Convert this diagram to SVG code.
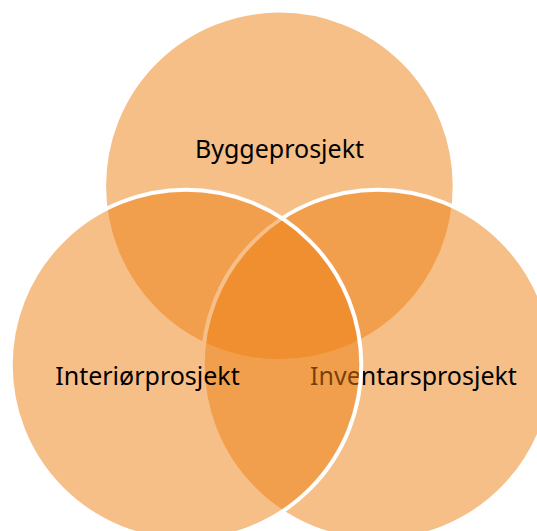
<svg xmlns="http://www.w3.org/2000/svg" width="537" height="531" viewBox="0 0 537 531">
<style>
.c{fill:rgb(237,128,18);fill-opacity:0.5;stroke:#fff;stroke-width:4}
.t{font-family:"Noto Sans","Open Sans",sans-serif;font-size:25px;fill:#000;text-anchor:middle}
</style>
<rect width="537" height="531" fill="#fff"/>
<g id="byggeprosjekt">
<circle class="c" cx="279.4" cy="185.9" r="175.3"/>
<text class="t" x="279.5" y="158">Byggeprosjekt</text>
</g>
<g id="inventarsprosjekt">
<circle class="c" cx="378" cy="365" r="175.3"/>
<text class="t" x="413.5" y="385">Inventarsprosjekt</text>
</g>
<g id="interiorprosjekt">
<circle class="c" cx="186" cy="365" r="175.3"/>
<text class="t" x="147.5" y="385">Interiørprosjekt</text>
</g>
<g id="connectors"/>
</svg>
